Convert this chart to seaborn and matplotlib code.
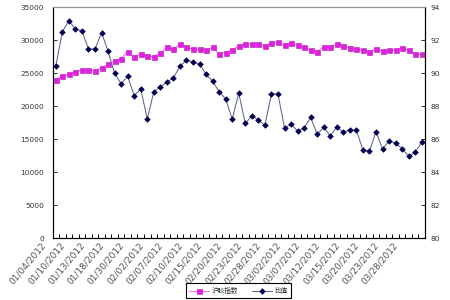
import matplotlib
matplotlib.use("Agg")
import matplotlib.pyplot as plt
import seaborn as sns
import pandas as pd
import numpy as np
from matplotlib.transforms import ScaledTranslation

dates = ["01/04/2012", "01/05/2012", "01/06/2012", "01/10/2012", "01/11/2012", "01/12/2012",
         "01/13/2012", "01/16/2012", "01/17/2012", "01/18/2012", "01/19/2012", "01/20/2012",
         "01/30/2012", "01/31/2012", "02/01/2012", "02/02/2012", "02/03/2012", "02/06/2012",
         "02/07/2012", "02/08/2012", "02/09/2012", "02/10/2012", "02/13/2012", "02/14/2012",
         "02/15/2012", "02/16/2012", "02/17/2012", "02/20/2012", "02/21/2012", "02/22/2012",
         "02/23/2012", "02/24/2012", "02/27/2012", "02/28/2012", "02/29/2012", "03/01/2012",
         "03/02/2012", "03/05/2012", "03/06/2012", "03/07/2012", "03/08/2012", "03/09/2012",
         "03/12/2012", "03/13/2012", "03/14/2012", "03/15/2012", "03/16/2012", "03/19/2012",
         "03/20/2012", "03/21/2012", "03/22/2012", "03/23/2012", "03/26/2012", "03/27/2012",
         "03/28/2012", "03/29/2012", "03/30/2012"]

rubber_index = [23950, 24630, 24830, 25250, 25490, 25550, 25400, 25860, 26410, 26820,
                27230, 28300, 27480, 27940, 27590, 27540, 28050, 28920, 28610, 29470,
                29010, 28610, 28610, 28500, 28920, 27940, 28150, 28550, 29140, 29400,
                29500, 29470, 29160, 29580, 29730, 29220, 29620, 29220, 28920, 28460,
                28300, 29010, 29010, 29390, 29160, 28840, 28690, 28500, 28230, 28690,
                28380, 28530, 28530, 28810, 28500, 27890, 27890]

ratio = [90.44, 92.50, 93.19, 92.67, 92.56, 91.47, 91.47, 92.46, 91.35, 90.00,
         89.37, 89.82, 88.64, 89.05, 87.23, 88.88, 89.17, 89.47, 89.72, 90.42,
         90.79, 90.68, 90.56, 89.94, 89.52, 88.88, 88.44, 87.23, 88.79, 86.96,
         87.43, 87.15, 86.85, 88.75, 88.75, 86.68, 86.91, 86.50, 86.68, 87.33,
         86.30, 86.73, 86.20, 86.75, 86.42, 86.58, 86.55, 85.35, 85.29, 86.46,
         85.41, 85.90, 85.76, 85.44, 84.96, 85.22, 85.81]

series_names = ["沪胶指数", "比值"]
left_ticks = [0, 5000, 10000, 15000, 20000, 25000, 30000, 35000]
right_ticks = [80, 82, 84, 86, 88, 90, 92, 94]

sns.set_style("white")
plt.rcParams["font.family"] = ["DejaVu Sans", "Noto Sans CJK SC"]

df = pd.DataFrame({"pos": np.arange(len(dates)), "date": dates,
                   "index": rubber_index, "ratio": ratio})

fig = plt.figure(figsize=(4.5, 3), dpi=100)
ax = fig.add_axes([0.1167, 0.2057, 0.8278, 0.7700])
ax2 = ax.twinx()

sns.lineplot(data=df, x="pos", y="index", ax=ax, color="#ff66ff", linewidth=0.8,
             marker="s", markersize=3.6, markerfacecolor="#e020e0",
             markeredgecolor="#c010c0", markeredgewidth=0.4, legend=False)
sns.lineplot(data=df, x="pos", y="ratio", ax=ax2, color="#62628f", linewidth=0.75,
             marker="D", markersize=2.9, markerfacecolor="#000050",
             markeredgecolor="#000050", markeredgewidth=0.4, legend=False)

ax.set_xlim(-0.5, len(dates) - 0.5)
ax.set_ylim(0, 35000)
ax2.set_ylim(80, 94)
ax.set_yticks(left_ticks)
ax2.set_yticks(right_ticks)
ax.set_xlabel("")
ax.set_ylabel("")
ax2.set_ylabel("")

ax.set_xticks(np.arange(0, len(dates), 3))
ax.set_xticklabels(dates[::3], rotation=50, ha="right", va="center",
                   rotation_mode="anchor", fontsize=6.5, color="#555555")
ax.set_xticks(np.arange(-0.5, len(dates), 1), minor=True)
ax.tick_params(axis="x", which="major", length=0, pad=4)
ax.tick_params(axis="x", which="minor", length=3, direction="in", width=0.7,
               color="black", bottom=True)
for lab in ax.get_xticklabels():
    lab.set_transform(lab.get_transform() + ScaledTranslation(-0.12, 0, fig.dpi_scale_trans))

ax.tick_params(axis="y", direction="in", length=3, width=0.7, labelsize=5.3,
               pad=6, labelcolor="#333333", left=True)
ax2.tick_params(axis="y", direction="in", length=3, width=0.7, labelsize=5.3,
                pad=3.6, labelcolor="#333333", right=True)

for a in (ax, ax2):
    a.grid(False)
    for side in ("left", "bottom", "right"):
        a.spines[side].set_color("black")
        a.spines[side].set_linewidth(0.8)
        a.spines[side].set_visible(True)
    a.spines["top"].set_color("#909090")
    a.spines["top"].set_linewidth(0.8)
ax.patch.set_facecolor("white")
fig.patch.set_facecolor("white")

handles = [ax.lines[0], ax2.lines[0]]
leg = fig.legend(handles, series_names, loc="center", bbox_to_anchor=(0.53, 0.032),
                 ncol=2, fontsize=4.8, frameon=True, fancybox=False, framealpha=1,
                 edgecolor="black", handlelength=3.0, handletextpad=0.3,
                 columnspacing=2.2, borderpad=0.55)
leg.get_frame().set_linewidth(0.8)

fig.savefig("out.png", dpi=100, facecolor="white")
